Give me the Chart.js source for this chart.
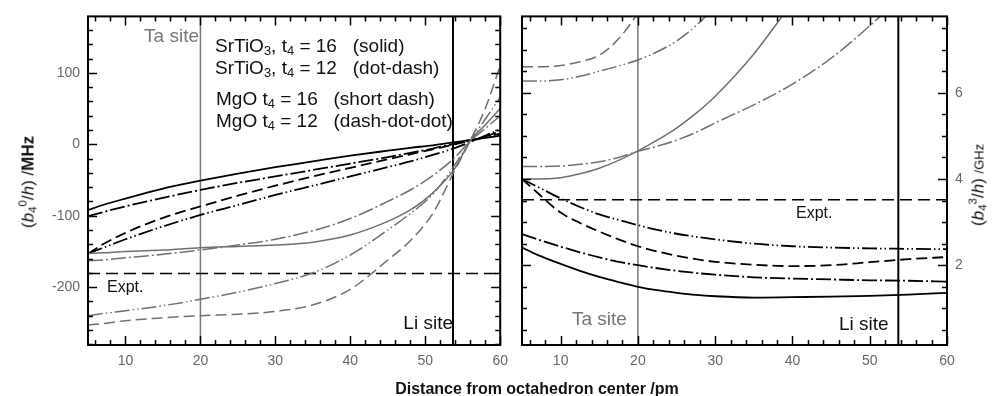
<!DOCTYPE html>
<html>
<head>
<meta charset="utf-8">
<script src="https://cdn.jsdelivr.net/npm/chart.js@4.4.1/dist/chart.umd.min.js"></script>
<style>
  body { margin: 0; background: #fff; }
  #wrap { position: relative; width: 996px; height: 396px; overflow: hidden;
          font-family: "Liberation Sans", Arial, sans-serif; color: #111; }
  .pane { position: absolute; top: 0; height: 396px; }
  .t { position: absolute; white-space: nowrap; line-height: 1; }
  .vc { transform: translateY(-50%); }
  .rc { transform: translate(-100%, -50%); }
  .gray { color: #777; }
  sub { font-size: 68%; vertical-align: -0.3em; line-height: 0; }
  sup { font-size: 68%; vertical-align: 0.6em; line-height: 0; }
</style>
</head>
<body>
<div id="wrap">
  <div class="pane" style="left:0;width:516px"><canvas id="left"></canvas></div>
  <div class="pane" style="left:516px;width:480px"><canvas id="right"></canvas></div>

  <div class="t rc gray" style="left:199px;top:35px;font-size:19px">Ta site</div>
  <div class="t vc" style="left:215px;top:45px;font-size:19px">SrTiO<sub>3</sub>, t<sub>4</sub> = 16&nbsp;&nbsp; (solid)</div>
  <div class="t vc" style="left:215px;top:67px;font-size:19px">SrTiO<sub>3</sub>, t<sub>4</sub> = 12&nbsp;&nbsp; (dot-dash)</div>
  <div class="t vc" style="left:216px;top:98px;font-size:19px">MgO t<sub>4</sub> = 16&nbsp;&nbsp; (short dash)</div>
  <div class="t vc" style="left:216px;top:120px;font-size:19px">MgO t<sub>4</sub> = 12&nbsp;&nbsp; (dash-dot-dot)</div>
  <div class="t vc" style="left:107px;top:287px;font-size:16px">Expt.</div>
  <div class="t rc" style="left:453px;top:322px;font-size:19px">Li site</div>

  <div class="t vc" style="left:796px;top:213px;font-size:16px">Expt.</div>
  <div class="t vc gray" style="left:572px;top:318px;font-size:19px">Ta site</div>
  <div class="t vc" style="left:839px;top:323px;font-size:19px">Li site</div>

  <div class="t" style="left:537px;top:389px;font-size:16px;font-weight:bold;transform:translate(-50%,-50%)">Distance from octahedron center /pm</div>
  <div class="t" style="left:28px;top:182px;font-size:17px;transform:translate(-50%,-50%) rotate(-90deg)">(<i>b</i><sub>4</sub><sup>0</sup>/<i>h</i>) /<b>MHz</b></div>
  <div class="t" style="left:978px;top:185px;font-size:17px;transform:translate(-50%,-50%) rotate(-90deg)">(<i>b</i><sub>4</sub><sup>3</sup>/<i>h</i>) <span style="font-size:13px">/GHz</span></div>
</div>

<script>
// distance from octahedron center (pm)
const distL = [5, 7, 10, 15, 20, 25, 30, 35, 40, 45, 48, 51, 54, 56, 58, 60];
const distR = [5, 7, 10, 12.5, 15, 17.5, 20, 22.5, 25, 27.5, 30, 35, 40, 45, 50, 55, 60];

// b4^0/h in MHz, Li-site curves (black) and Ta-site curves (gray)
const srt16LiL = [-92, -85, -76, -62, -51, -41, -32, -24, -16, -9, -5, -1.5, 3, 6, 9, 12];
const srt12LiL = [-101, -95, -87, -75, -64, -54, -45, -36, -27, -18, -12, -6, 1, 5, 10, 15];
const mgo16LiL = [-153, -140, -124, -103, -87, -72, -58, -45, -33, -21, -14, -7, 0, 5, 11, 18];
const mgo12LiL = [-153, -145, -133, -115, -99, -85, -71, -58, -45, -32, -24, -15, -5, 3, 12, 21];
const srt16TaL = [-153, -152, -150, -148, -145, -143, -141, -137, -127, -108, -92, -68, -33, 5, 27, 50];
const srt12TaL = [-163, -162, -159, -154, -148, -141, -133, -121, -104, -80, -64, -44, -18, 5, 22, 40];
const mgo16TaL = [-253, -251, -247, -243, -240, -238, -234, -225, -203, -162, -135, -97, -35, 5, 50, 110];
const mgo12TaL = [-240, -237, -233, -226, -217, -207, -195, -180, -155, -120, -97, -70, -28, 5, 35, 66];

// b4^3/h in GHz
const srt16LiR = [2.41, 2.24, 2.03, 1.87, 1.73, 1.61, 1.50, 1.42, 1.36, 1.31, 1.28, 1.25, 1.26, 1.27, 1.29, 1.32, 1.36];
const srt12LiR = [2.72, 2.60, 2.43, 2.30, 2.18, 2.08, 2.00, 1.93, 1.87, 1.82, 1.78, 1.72, 1.69, 1.67, 1.65, 1.64, 1.62];
const mgo16LiR = [4.0, 3.68, 3.22, 2.98, 2.78, 2.60, 2.44, 2.32, 2.22, 2.14, 2.08, 2.01, 1.98, 2.0, 2.07, 2.14, 2.19];
const mgo12LiR = [4.0, 3.82, 3.55, 3.35, 3.18, 3.05, 2.93, 2.82, 2.73, 2.66, 2.60, 2.50, 2.44, 2.41, 2.39, 2.38, 2.37];
const srt16TaR = [4.0, 4.0, 4.03, 4.12, 4.25, 4.43, 4.65, 4.9, 5.18, 5.52, 5.92, 6.9, 8.1, null, null, null, null];
const srt12TaR = [4.29, 4.29, 4.3, 4.34, 4.4, 4.5, 4.64, 4.76, 4.9, 5.08, 5.3, 5.72, 6.2, 6.8, 7.55, 8.4, null];
const mgo16TaR = [6.6, 6.6, 6.63, 6.72, 6.87, 7.25, 7.85, 8.6, null, null, null, null, null, null, null, null, null];
const mgo12TaR = [6.27, 6.27, 6.3, 6.38, 6.5, 6.62, 6.76, 6.95, 7.2, 7.55, 8.0, null, null, null, null, null, null];

const exptL = -181;
const exptR = 3.52;
const taSite = 20;
const liSite = 53.7;

const xTickLabels = [10, 20, 30, 40, 50, 60];
const yTickLabelsL = [-200, -100, 0, 100];
const yTickLabelsR = [2, 4, 6];
const xRange = [5, 60];
const yRangeL = [-281, 179];
const yRangeR = [0.15, 7.77];

const BLACK = '#000';
const GRAY = '#707070';
const dash = {
  solid: [],
  dotDash: [15, 3, 2, 3],
  shortDash: [11, 5],
  dashDotDot: [15, 3, 1.5, 3, 1.5, 3]
};

Chart.defaults.font.family = "'Liberation Sans', Arial, sans-serif";

function pts(xs, ys) { return xs.map((x, i) => ({ x, y: ys[i] })); }

function curve(xs, ys, color, style, width) {
  return {
    data: pts(xs, ys), borderColor: color, borderWidth: width, borderDash: dash[style],
    pointRadius: 0, fill: false, cubicInterpolationMode: 'monotone'
  };
}

function straight(data, color, width, d) {
  return { data, borderColor: color, borderWidth: width, borderDash: d || [], pointRadius: 0, fill: false, tension: 0 };
}

function range(a, b, step) {
  const out = [];
  for (let v = a; v <= b + 1e-9; v += step) out.push(+v.toFixed(3));
  return out;
}

// frame + inward ticks on all four sides
const frameTicks = {
  id: 'frameTicks',
  afterDatasetsDraw(chart, args, o) {
    const { ctx, chartArea: a, scales: { x, y } } = chart;
    ctx.save();
    ctx.strokeStyle = '#000';
    ctx.lineWidth = 1.5;
    ctx.beginPath();
    o.xMinor.forEach(v => {
      const len = o.xMajor.includes(v) ? 9 : 5;
      const px = Math.round(x.getPixelForValue(v)) + 0.5;
      ctx.moveTo(px, a.bottom); ctx.lineTo(px, a.bottom - len);
      ctx.moveTo(px, a.top); ctx.lineTo(px, a.top + len);
    });
    o.yMinor.forEach(v => {
      const len = o.yMajor.includes(v) ? 9 : 5;
      const py = Math.round(y.getPixelForValue(v)) + 0.5;
      ctx.moveTo(a.left, py); ctx.lineTo(a.left + len, py);
      ctx.moveTo(a.right, py); ctx.lineTo(a.right - len, py);
    });
    ctx.stroke();
    ctx.lineWidth = 2;
    ctx.strokeRect(a.left, a.top, a.right - a.left, a.bottom - a.top);
    ctx.restore();
  }
};

function makeOpts(yRange, yTicks, yPos, yWidth, padding, tickOpts) {
  return {
    responsive: true, maintainAspectRatio: false, animation: false,
    layout: { padding },
    plugins: { legend: { display: false }, tooltip: { enabled: false }, frameTicks: tickOpts },
    scales: {
      x: {
        type: 'linear', min: xRange[0], max: xRange[1],
        grid: { display: false, drawTicks: false }, border: { display: false },
        afterBuildTicks: s => { s.ticks = xTickLabels.map(v => ({ value: v })); },
        afterFit: s => { s.height = 51; },
        ticks: { padding: 8, color: '#666', font: { size: 14 }, maxRotation: 0, autoSkip: false }
      },
      y: {
        type: 'linear', position: yPos, min: yRange[0], max: yRange[1],
        grid: { display: false, drawTicks: false }, border: { display: false },
        afterBuildTicks: s => { s.ticks = yTicks.map(v => ({ value: v })); },
        afterFit: s => { s.width = yWidth; },
        ticks: { padding: 8, color: '#666', font: { size: 14 } }
      }
    }
  };
}

new Chart(document.getElementById('left'), {
  type: 'line',
  data: {
    datasets: [
      curve(distL, srt16TaL, GRAY, 'solid', 1.5),
      curve(distL, srt12TaL, GRAY, 'dotDash', 1.5),
      curve(distL, mgo16TaL, GRAY, 'shortDash', 1.5),
      curve(distL, mgo12TaL, GRAY, 'dashDotDot', 1.5),
      curve(distL, srt16LiL, BLACK, 'solid', 1.8),
      curve(distL, srt12LiL, BLACK, 'dotDash', 1.8),
      curve(distL, mgo16LiL, BLACK, 'shortDash', 1.8),
      curve(distL, mgo12LiL, BLACK, 'dashDotDot', 1.8),
      straight([{ x: xRange[0], y: exptL }, { x: xRange[1], y: exptL }], BLACK, 1.5, [12, 6]),
      straight([{ x: taSite, y: yRangeL[0] }, { x: taSite, y: yRangeL[1] }], '#777', 1.5),
      straight([{ x: liSite, y: yRangeL[0] }, { x: liSite, y: yRangeL[1] }], BLACK, 2)
    ]
  },
  options: makeOpts(yRangeL, yTickLabelsL, 'left', 88, { top: 16, right: 4, left: 0, bottom: 0 }, {
    xMinor: range(6, 60, 2), xMajor: xTickLabels,
    yMinor: range(-280, 160, 20), yMajor: yTickLabelsL
  }),
  plugins: [frameTicks]
});

new Chart(document.getElementById('right'), {
  type: 'line',
  data: {
    datasets: [
      curve(distR, srt16TaR, GRAY, 'solid', 1.5),
      curve(distR, srt12TaR, GRAY, 'dotDash', 1.5),
      curve(distR, mgo16TaR, GRAY, 'shortDash', 1.5),
      curve(distR, mgo12TaR, GRAY, 'dashDotDot', 1.5),
      curve(distR, srt16LiR, BLACK, 'solid', 1.8),
      curve(distR, srt12LiR, BLACK, 'dotDash', 1.8),
      curve(distR, mgo16LiR, BLACK, 'shortDash', 1.8),
      curve(distR, mgo12LiR, BLACK, 'dashDotDot', 1.8),
      straight([{ x: xRange[0], y: exptR }, { x: xRange[1], y: exptR }], BLACK, 1.5, [12, 6]),
      straight([{ x: taSite, y: yRangeR[0] }, { x: taSite, y: yRangeR[1] }], '#777', 1.5),
      straight([{ x: liSite, y: yRangeR[0] }, { x: liSite, y: yRangeR[1] }], BLACK, 2)
    ]
  },
  options: makeOpts(yRangeR, yTickLabelsR, 'right', 49, { top: 16, right: 0, left: 6, bottom: 0 }, {
    xMinor: range(6, 60, 2), xMajor: xTickLabels,
    yMinor: range(0.5, 7.5, 0.5), yMajor: yTickLabelsR
  }),
  plugins: [frameTicks]
});
</script>
</body>
</html>
